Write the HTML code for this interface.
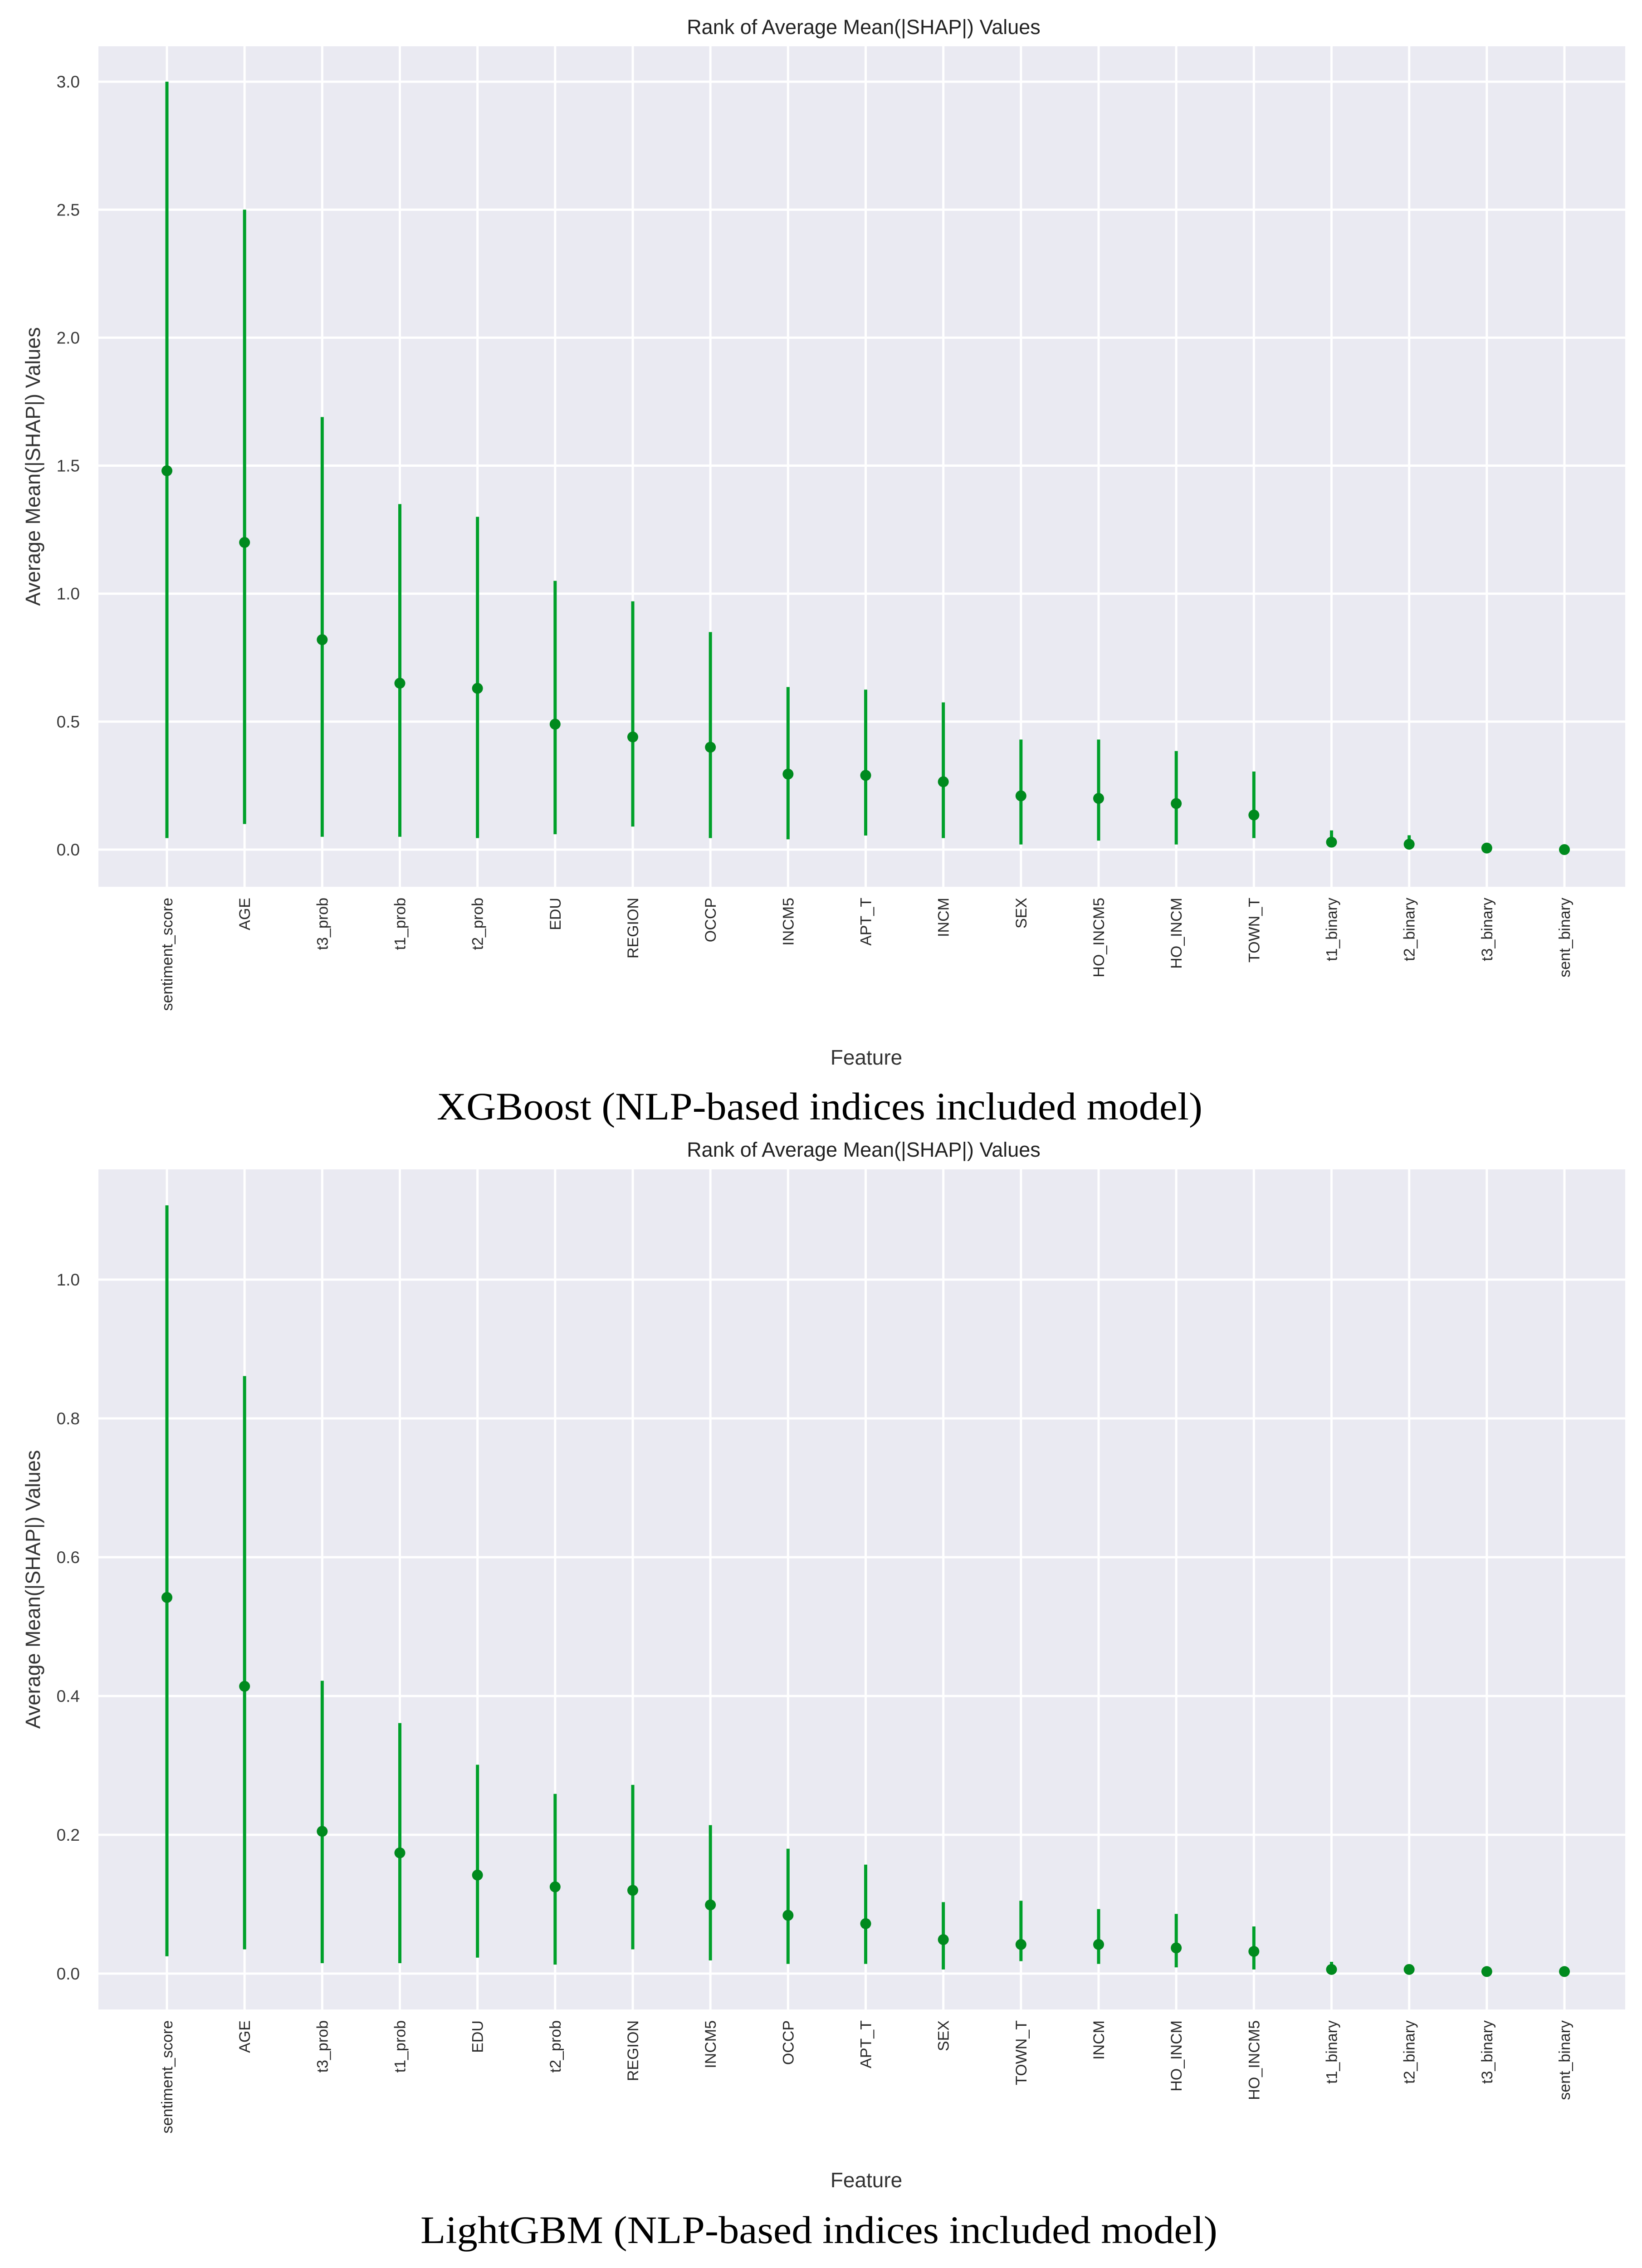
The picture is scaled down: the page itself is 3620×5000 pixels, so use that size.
<!DOCTYPE html>
<html><head><meta charset="utf-8">
<style>
html,body{margin:0;padding:0;background:#fff;}
svg{display:block;}
text{font-family:"Liberation Sans",sans-serif;}
text.cap{font-family:"Liberation Serif",serif;}
</style></head>
<body>
<svg id="root" width="3620" height="5000" viewBox="0 0 3620 5000" xmlns="http://www.w3.org/2000/svg">
<rect width="3620" height="5000" fill="#fff"/>
</svg>
<script>
const xgbFeatures = ["sentiment_score","AGE","t3_prob","t1_prob","t2_prob","EDU","REGION","OCCP","INCM5","APT_T","INCM","SEX","HO_INCM5","HO_INCM","TOWN_T","t1_binary","t2_binary","t3_binary","sent_binary"];
const xgbMean = [1.48,1.20,0.82,0.65,0.63,0.49,0.44,0.40,0.295,0.29,0.265,0.21,0.20,0.18,0.135,0.029,0.021,0.006,0.0];
const xgbLow  = [0.045,0.10,0.05,0.05,0.045,0.06,0.09,0.045,0.04,0.055,0.045,0.02,0.035,0.02,0.045,0.029,0.021,0.006,0.0];
const xgbHigh = [3.0,2.5,1.69,1.35,1.30,1.05,0.97,0.85,0.635,0.625,0.575,0.43,0.43,0.385,0.305,0.075,0.056,0.006,0.0];
const xgbTicks = [0.0,0.5,1.0,1.5,2.0,2.5,3.0];
const xgbTickLabels = ["0.0","0.5","1.0","1.5","2.0","2.5","3.0"];

const lgbFeatures = ["sentiment_score","AGE","t3_prob","t1_prob","EDU","t2_prob","REGION","INCM5","OCCP","APT_T","SEX","TOWN_T","INCM","HO_INCM","HO_INCM5","t1_binary","t2_binary","t3_binary","sent_binary"];
const lgbMean = [0.542,0.414,0.205,0.174,0.142,0.125,0.120,0.099,0.084,0.072,0.049,0.042,0.042,0.037,0.032,0.006,0.006,0.003,0.003];
const lgbLow  = [0.025,0.035,0.015,0.015,0.023,0.013,0.035,0.019,0.014,0.014,0.006,0.018,0.014,0.009,0.006,0.002,0.003,0.003,0.003];
const lgbHigh = [1.107,0.861,0.422,0.361,0.301,0.259,0.272,0.214,0.180,0.157,0.103,0.105,0.093,0.086,0.068,0.017,0.013,0.003,0.003];
const lgbTicks = [0.0,0.2,0.4,0.6,0.8,1.0];
const lgbTickLabels = ["0.0","0.2","0.4","0.6","0.8","1.0"];

const NS="http://www.w3.org/2000/svg";
const root=document.getElementById('root');
function mk(tag,attrs,parent,txt){const e=document.createElementNS(NS,tag);for(const k in attrs)e.setAttribute(k,attrs[k]);if(txt!==undefined)e.textContent=txt;(parent||root).appendChild(e);return e;}

function chart(o){
  const g=mk('g',{});
  
  
  const L=217,R=3583,T=o.top,B=o.bottom;
  const y=v=>o.y0-(v*o.ppu);
  const n=o.feats.length;
  const x0=368,step=(3449-368)/(n-1);
  const x=i=>x0+i*step;
  const bg=mk('rect',{x:L,y:T,width:R-L,height:B-T,fill:'#eaeaf2'},g);
  
  
  o.ticks.forEach((t,i)=>{
    const gl=mk('line',{x1:L,x2:R,y1:y(t),y2:y(t),stroke:'#fff','stroke-width':5},g);
    
    
    const tl=mk('text',{x:176,y:y(t)+13,'text-anchor':'end','font-size':37,fill:'#3a3a3a'},g,o.tickLabels[i]);
    
    
  });
  o.feats.forEach((f,i)=>{
    const gl=mk('line',{x1:x(i),x2:x(i),y1:T,y2:B,stroke:'#fff','stroke-width':5},g);
    
    
    const tl=mk('text',{x:0,y:0,'text-anchor':'end','font-size':34,fill:'#2a2a2a',transform:`translate(${x(i)+12},${B+24}) rotate(-90)`},g,f);
    
    
  });
  o.feats.forEach((f,i)=>{
    const ln=mk('line',{x1:x(i),x2:x(i),y1:y(o.low[i]),y2:y(o.high[i]),stroke:'#00a02a','stroke-width':7},g);
    
    
    const c=mk('circle',{cx:x(i),cy:y(o.mean[i]),r:12,fill:'#008a1e'},g);
    
    
  });
  const tt=mk('text',{x:1904,y:o.titleY,'text-anchor':'middle','font-size':45,fill:'#222'},g,'Rank of Average Mean(|SHAP|) Values');
  
  
  const yl=mk('text',{x:0,y:0,'text-anchor':'middle','font-size':45,fill:'#333',transform:`translate(88,${(T+B)/2}) rotate(-90)`},g,'Average Mean(|SHAP|) Values');
  
  
  const xl=mk('text',{x:1910,y:o.featY,'text-anchor':'middle','font-size':46,fill:'#333'},g,'Feature');
  
  
  const cap=mk('text',{class:'cap',x:o.capX,y:o.capY,'font-size':86,fill:'#000',style:'font-family:"Liberation Serif",serif',textLength:o.capW,lengthAdjust:'spacingAndGlyphs'},g,o.caption);
  
  
}

chart({name:'xgboost-chart',feats:xgbFeatures,mean:xgbMean,low:xgbLow,high:xgbHigh,ticks:xgbTicks,tickLabels:xgbTickLabels,
  top:102,bottom:1955,y0:1873,ppu:564.3,titleY:75,featY:2347,capX:963,capY:2468,capW:1688,caption:'XGBoost (NLP-based indices included model)'});
chart({name:'lightgbm-chart',feats:lgbFeatures,mean:lgbMean,low:lgbLow,high:lgbHigh,ticks:lgbTicks,tickLabels:lgbTickLabels,
  top:2578,bottom:4430,y0:4351,ppu:1530,titleY:2550,featY:4822,capX:927,capY:4945,capW:1757,caption:'LightGBM (NLP-based indices included model)'});
</script>
</body></html>
